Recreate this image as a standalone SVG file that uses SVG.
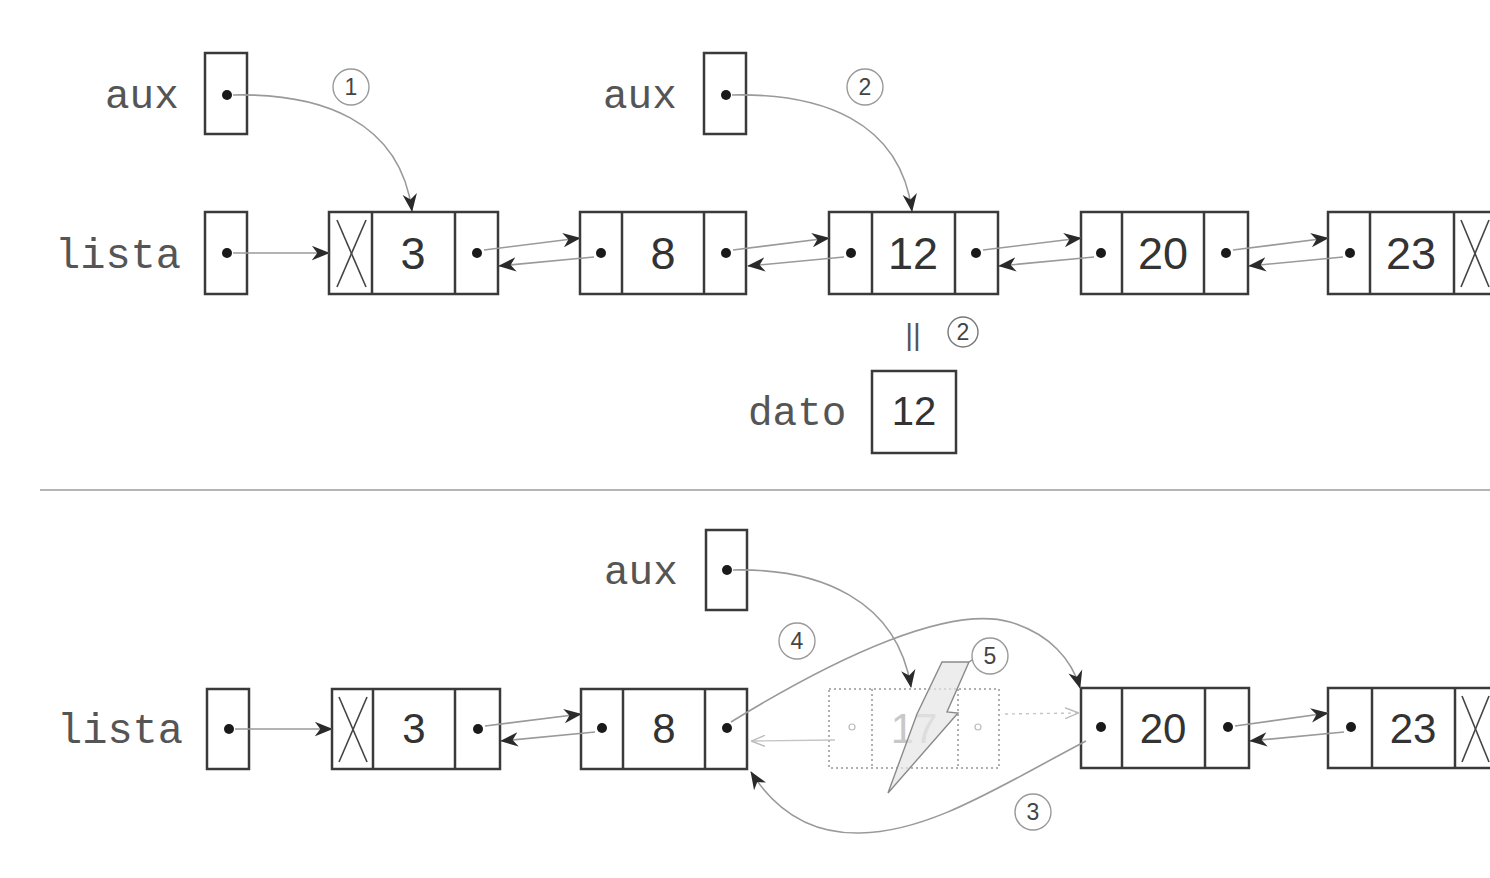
<svg xmlns="http://www.w3.org/2000/svg" width="1490" height="878" viewBox="0 0 1490 878">
<defs>
<marker id="ah" markerUnits="userSpaceOnUse" viewBox="0 0 20 16" refX="19" refY="8" markerWidth="18" markerHeight="15" orient="auto">
<path d="M0,0 L20,8 L0,16 L6,8 z" fill="#2a2a2a"/>
</marker>
<marker id="ahf" markerUnits="userSpaceOnUse" viewBox="0 0 20 16" refX="19" refY="8" markerWidth="14" markerHeight="12" orient="auto">
<path d="M0,0 L20,8 L0,16" fill="none" stroke="#bbb" stroke-width="2"/>
</marker>
<style>
.box{fill:#fff;stroke:#3a3a3a;stroke-width:2.5}
.dash{fill:none;stroke:#b0b0b0;stroke-width:2;stroke-dasharray:2 3}
.dot{fill:#1a1a1a}
.lbl{font-family:"Liberation Mono","DejaVu Sans Mono",monospace;font-size:41px;fill:#555}
.num{font-family:"Liberation Sans",Arial,sans-serif;font-size:45px;fill:#333;text-anchor:middle}
.numb{font-family:"Liberation Sans",Arial,sans-serif;font-size:42px;fill:#333;text-anchor:middle}
.link{fill:none;stroke:#9a9a9a;stroke-width:1.6;marker-end:url(#ah)}
.faint{fill:none;stroke:#c4c4c4;stroke-width:1.4;marker-end:url(#ahf)}
.xl{stroke:#444;stroke-width:1.6}
.circ{fill:#fff;stroke:#9a9a9a;stroke-width:1.4}
.ctext{font-family:"Liberation Sans",Arial,sans-serif;font-size:23px;fill:#444;text-anchor:middle}
</style>
</defs>
<rect width="1490" height="878" fill="#fff"/>

<!-- separator -->
<line x1="40" y1="490" x2="1490" y2="490" stroke="#b5b5b5" stroke-width="2"/>

<!-- ===== TOP DIAGRAM ===== -->
<g id="aux1">
<text class="lbl" x="105" y="108">aux</text>
<rect class="box" x="205" y="53" width="42" height="81"/>
<circle class="dot" cx="227" cy="95" r="5"/>
</g>
<g id="aux2">
<text class="lbl" x="603" y="108">aux</text>
<rect class="box" x="704" y="53" width="42" height="81"/>
<circle class="dot" cx="726" cy="95" r="5"/>
</g>
<g id="lista1">
<text class="lbl" x="55" y="268" style="font-size:42px">lista</text>
<rect class="box" x="205" y="212" width="42" height="82"/>
<circle class="dot" cx="227" cy="253" r="5"/>
</g>

<g id="t3">
<rect class="box" x="329" y="212" width="169" height="82"/>
<line class="box" x1="372" y1="212" x2="372" y2="294"/>
<line class="box" x1="455" y1="212" x2="455" y2="294"/>
<line class="xl" x1="337" y1="220" x2="366" y2="287"/>
<line class="xl" x1="366" y1="220" x2="337" y2="287"/>
<text class="num" x="413" y="269">3</text>
<circle class="dot" cx="477" cy="253" r="5"/>
</g>
<g id="t8">
<rect class="box" x="580" y="212" width="166" height="82"/>
<line class="box" x1="622" y1="212" x2="622" y2="294"/>
<line class="box" x1="704" y1="212" x2="704" y2="294"/>
<circle class="dot" cx="601" cy="253" r="5"/>
<text class="num" x="663" y="269">8</text>
<circle class="dot" cx="726" cy="253" r="5"/>
</g>
<g id="t12">
<rect class="box" x="829" y="212" width="169" height="82"/>
<line class="box" x1="872" y1="212" x2="872" y2="294"/>
<line class="box" x1="955" y1="212" x2="955" y2="294"/>
<circle class="dot" cx="851" cy="253" r="5"/>
<text class="num" x="913" y="269">12</text>
<circle class="dot" cx="976" cy="253" r="5"/>
</g>
<g id="t20">
<rect class="box" x="1081" y="212" width="167" height="82"/>
<line class="box" x1="1122" y1="212" x2="1122" y2="294"/>
<line class="box" x1="1204" y1="212" x2="1204" y2="294"/>
<circle class="dot" cx="1101" cy="253" r="5"/>
<text class="num" x="1163" y="269">20</text>
<circle class="dot" cx="1226" cy="253" r="5"/>
</g>
<g id="t23">
<rect class="box" x="1328" y="212" width="170" height="82"/>
<line class="box" x1="1370" y1="212" x2="1370" y2="294"/>
<line class="box" x1="1454" y1="212" x2="1454" y2="294"/>
<circle class="dot" cx="1350" cy="253" r="5"/>
<text class="num" x="1411" y="269">23</text>
<line class="xl" x1="1461" y1="220" x2="1489" y2="287"/>
<line class="xl" x1="1489" y1="220" x2="1461" y2="287"/>
</g>

<g id="dato">
<text class="lbl" x="748" y="425">dato</text>
<rect class="box" x="872" y="371" width="84" height="82"/>
<text class="numb" x="914" y="425" style="font-size:40px">12</text>
</g>
<g id="equal-mark">
<text x="913" y="345" font-family="Liberation Sans, Arial, sans-serif" font-size="30" fill="#555" text-anchor="middle">||</text>
<circle class="circ" cx="963" cy="332" r="15" style="stroke:#777"/>
<text class="ctext" x="963" y="340">2</text>
</g>

<g id="connectors-top">
<path class="link" d="M233,253 L329,253"/>
<path class="link" d="M484,250 L580,238"/>
<path class="link" d="M594,257 L499,266"/>
<path class="link" d="M733,250 L829,238"/>
<path class="link" d="M844,257 L748,266"/>
<path class="link" d="M983,250 L1081,238"/>
<path class="link" d="M1094,257 L999,266"/>
<path class="link" d="M1233,250 L1328,238"/>
<path class="link" d="M1343,257 L1249,266"/>
<path class="link" d="M233,95 C320,93 400,120 412,211"/>
<path class="link" d="M732,95 C820,93 900,120 912,211"/>
</g>
<g id="step-labels-top">
<circle class="circ" cx="351" cy="87" r="18"/>
<text class="ctext" x="351" y="95">1</text>
<circle class="circ" cx="865" cy="87" r="18"/>
<text class="ctext" x="865" y="95">2</text>
</g>

<!-- ===== BOTTOM DIAGRAM ===== -->
<g id="aux3">
<text class="lbl" x="604" y="584">aux</text>
<rect class="box" x="706" y="530" width="41" height="80"/>
<circle class="dot" cx="727" cy="570" r="5"/>
</g>
<g id="lista2">
<text class="lbl" x="57" y="743" style="font-size:42px">lista</text>
<rect class="box" x="207" y="689" width="42" height="80"/>
<circle class="dot" cx="229" cy="729" r="5"/>
</g>
<g id="b3">
<rect class="box" x="332" y="689" width="168" height="80"/>
<line class="box" x1="373" y1="689" x2="373" y2="769"/>
<line class="box" x1="455" y1="689" x2="455" y2="769"/>
<line class="xl" x1="339" y1="697" x2="367" y2="762"/>
<line class="xl" x1="367" y1="697" x2="339" y2="762"/>
<text class="numb" x="414" y="743">3</text>
<circle class="dot" cx="478" cy="729" r="5"/>
</g>
<g id="b8">
<rect class="box" x="581" y="689" width="166" height="80"/>
<line class="box" x1="623" y1="689" x2="623" y2="769"/>
<line class="box" x1="705" y1="689" x2="705" y2="769"/>
<circle class="dot" cx="602" cy="728" r="5"/>
<text class="numb" x="664" y="743">8</text>
<circle class="dot" cx="727" cy="728" r="5"/>
</g>
<g id="b17-removed">
<rect class="dash" x="829" y="689" width="170" height="79"/>
<line class="dash" x1="872" y1="689" x2="872" y2="768"/>
<line class="dash" x1="958" y1="689" x2="958" y2="768"/>
<circle cx="852" cy="727" r="3" fill="none" stroke="#bbb" stroke-width="1.2"/>
<text class="numb" x="914" y="743" style="fill:#c8c8c8">17</text>
<circle cx="978" cy="727" r="3" fill="none" stroke="#bbb" stroke-width="1.2"/>
</g>
<g id="b20">
<rect class="box" x="1081" y="688" width="168" height="80"/>
<line class="box" x1="1122" y1="688" x2="1122" y2="768"/>
<line class="box" x1="1205" y1="688" x2="1205" y2="768"/>
<circle class="dot" cx="1101" cy="727" r="5"/>
<text class="numb" x="1163" y="743">20</text>
<circle class="dot" cx="1228" cy="727" r="5"/>
</g>
<g id="b23">
<rect class="box" x="1328" y="688" width="170" height="80"/>
<line class="box" x1="1372" y1="688" x2="1372" y2="768"/>
<line class="box" x1="1455" y1="688" x2="1455" y2="768"/>
<circle class="dot" cx="1351" cy="727" r="5"/>
<text class="numb" x="1413" y="743">23</text>
<line class="xl" x1="1462" y1="696" x2="1489" y2="762"/>
<line class="xl" x1="1489" y1="696" x2="1462" y2="762"/>
</g>

<g id="lightning">
<polygon points="942,662 969,662 947,712 958,713 888,793 917,714" fill="#e6e6e6" fill-opacity="0.7" stroke="#8a8a8a" stroke-width="1.4"/>
<line x1="969" y1="662" x2="975" y2="658" stroke="#8a8a8a" stroke-width="1.4"/>
</g>

<g id="connectors-bottom">
<path class="link" d="M235,729 L332,729"/>
<path class="link" d="M485,726 L581,714"/>
<path class="link" d="M595,732 L501,741"/>
<path class="link" d="M1235,726 L1328,713"/>
<path class="link" d="M1344,732 L1250,741"/>
<path class="faint" d="M1005,714 L1078,713" style="stroke-dasharray:3 4"/>
<path class="faint" d="M835,740 L752,741"/>
<path class="link" d="M733,570 C820,568 897,600 911,687"/>
<path class="link" d="M731,722 C840,655 950,605 1010,622 C1050,634 1072,660 1080,688"/>
<path class="link" d="M1086,741 C1000,786 930,832 860,833 C810,834 775,810 751,772"/>
</g>
<g id="step-labels-bottom">
<circle class="circ" cx="797" cy="641" r="18"/>
<text class="ctext" x="797" y="649">4</text>
<circle class="circ" cx="990" cy="656" r="18"/>
<text class="ctext" x="990" y="664">5</text>
<circle class="circ" cx="1033" cy="812" r="18"/>
<text class="ctext" x="1033" y="820">3</text>
</g>
</svg>
